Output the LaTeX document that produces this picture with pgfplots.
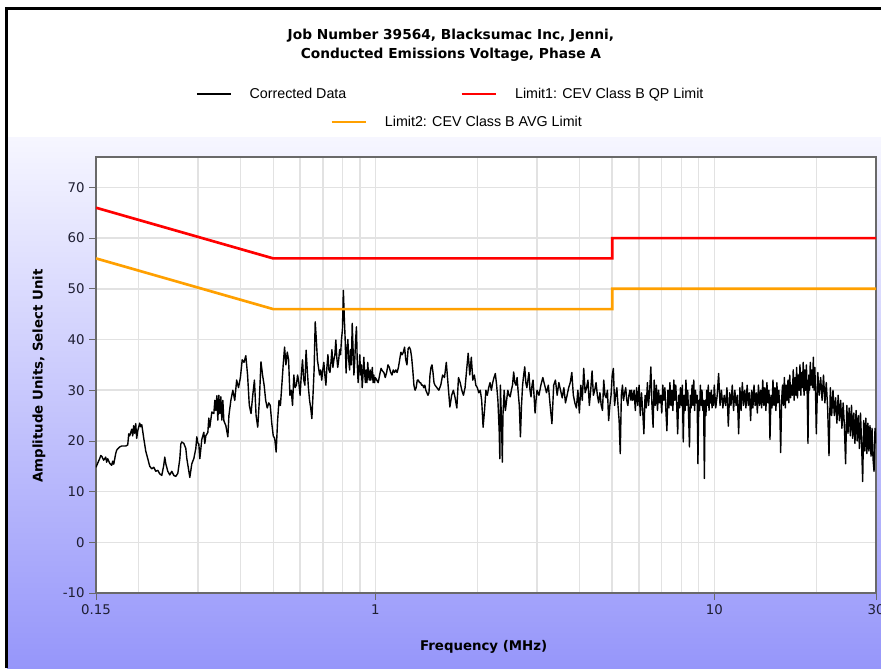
\documentclass[border=0pt]{standalone}
\usepackage{fontspec}
\setmainfont{DejaVu Sans}
\newfontfamily\legfont{Liberation Sans}
\usepackage{pgfplots}
\pgfplotsset{compat=1.18}
\definecolor{gridc}{RGB}{226,226,226}
\definecolor{qpred}{RGB}{255,0,0}
\definecolor{avgor}{RGB}{255,160,0}
\definecolor{bgtop}{RGB}{246,246,255}
\definecolor{bgbot}{RGB}{150,150,250}
\definecolor{axc}{RGB}{105,105,105}
\definecolor{tlc}{RGB}{30,30,50}
\begin{document}
\begin{tikzpicture}[x=1pt,y=1pt]
\useasboundingbox (-72,-56.25) rectangle (588.75,444.75);
\fill[white] (-72,-56.25) rectangle (588.75,444.75);
\shade[top color=bgtop,bottom color=bgbot] (-66.75,-56.25) rectangle (588.75,341.25);
\draw[black,line width=2.25pt] (-66.75,-56.25) -- (-66.75,438) -- (588.75,438);
\begin{axis}[
  at={(0,0)}, anchor=south west, scale only axis,
  width=585pt, height=327pt,
  xmode=log, xmin=0.15, xmax=30, ymin=-10, ymax=76,
  xtick={0.15,1,10,30}, xticklabels={0.15,1,10,30},
  minor xtick={0.2,0.3,0.4,0.5,0.6,0.7,0.8,0.9,2,3,4,5,6,7,8,9,20},
  ytick={-10,0,10,20,30,40,50,60,70},
  yticklabels={-10,0,10,20,30,40,50,60,70},
  grid=both,
  major grid style={gridc,line width=1.1pt},
  minor grid style={gridc,line width=1.1pt},
  tick align=outside, xtick pos=left, ytick pos=left,
  major tick length=5pt, minor tick length=0pt,
  tick style={axc,line width=0.6pt},
  axis line style={axc,line width=0.9pt},
  axis background/.style={fill=white},
  tick label style={font=\fontsize{10}{12}\selectfont, text=tlc},
  title={Job Number 39564, Blacksumac Inc, Jenni,\\Conducted Emissions Voltage, Phase A},
  title style={at={(axis description cs:0.455,1.2374)}, anchor=center, align=center,
    font=\bfseries\fontsize{10.3}{14.25}\selectfont},
  xlabel={Frequency (MHz)},
  xlabel style={at={(axis description cs:0.497,-0.123)}, anchor=center, font=\bfseries\fontsize{10}{12}\selectfont},
  ylabel={Amplitude Units, Select Unit},
  ylabel style={at={(axis description cs:-0.073,0.498)}, anchor=center, rotate=0, font=\bfseries\fontsize{10}{12}\selectfont},
  legend columns=2,
  legend image code/.code={\draw[#1] (0pt,0pt) -- (25.5pt,0pt);},
  legend style={at={(axis description cs:0.1282,1.1445)}, anchor=west, draw=none, fill=none,
    inner sep=0pt, nodes={inner xsep=0pt, inner ysep=1pt},
    font=\legfont\fontsize{10.7}{12.5}\selectfont,
    /tikz/every odd column/.append style={column sep=13.5pt},
    /tikz/every even column/.append style={column sep=85.5pt}},
]
\addplot[black, line width=1.05pt, line join=round] table[row sep=\\] {
f v\\
0.1500 14.8\\ 0.1515 15.5\\ 0.1538 16.5\\ 0.1549 17.1\\ 0.1559 17.0\\ 0.1580 16.2\\ 0.1602 16.8\\ 0.1613 15.8\\
0.1624 16.5\\ 0.1646 15.6\\ 0.1669 15.2\\ 0.1680 16.0\\ 0.1692 15.4\\ 0.1715 17.5\\ 0.1727 18.2\\ 0.1738 18.4\\
0.1762 18.8\\ 0.1786 19.0\\ 0.1811 19.0\\ 0.1836 19.0\\ 0.1861 19.2\\ 0.1874 21.4\\ 0.1886 21.0\\ 0.1912 22.3\\
0.1925 21.0\\ 0.1938 23.0\\ 0.1951 21.5\\ 0.1965 23.4\\ 0.1978 20.5\\ 0.1992 22.0\\ 0.2019 23.5\\ 0.2033 22.8\\
0.2047 23.2\\ 0.2075 20.5\\ 0.2103 18.0\\ 0.2132 16.5\\ 0.2161 15.0\\ 0.2191 14.5\\ 0.2221 14.8\\ 0.2251 14.0\\
0.2282 14.2\\ 0.2313 13.5\\ 0.2345 13.2\\ 0.2377 15.2\\ 0.2393 16.8\\ 0.2410 15.5\\ 0.2443 14.0\\ 0.2476 13.3\\
0.2510 14.0\\ 0.2545 13.2\\ 0.2579 13.0\\ 0.2615 13.6\\ 0.2651 16.5\\ 0.2669 19.4\\ 0.2687 19.8\\ 0.2724 19.5\\
0.2761 18.5\\ 0.2780 16.5\\ 0.2799 15.3\\ 0.2837 12.8\\ 0.2876 15.5\\ 0.2915 16.5\\ 0.2955 18.5\\ 0.2975 20.8\\
0.2996 19.6\\ 0.3016 19.4\\ 0.3037 16.5\\ 0.3078 20.3\\ 0.3120 21.7\\ 0.3141 19.5\\ 0.3163 21.0\\ 0.3207 21.7\\
0.3228 24.5\\ 0.3250 22.7\\ 0.3295 25.7\\ 0.3340 25.4\\ 0.3363 28.0\\ 0.3386 26.0\\ 0.3409 28.9\\ 0.3432 24.1\\
0.3455 29.0\\ 0.3479 25.4\\ 0.3503 28.7\\ 0.3527 24.1\\ 0.3551 28.0\\ 0.3575 24.0\\ 0.3624 23.0\\ 0.3674 20.8\\
0.370 25\\ 0.375 28\\ 0.380 30\\ 0.385 28\\ 0.390 32\\ 0.395 30.5\\ 0.400 32.5\\ 0.405 36\\ 0.410 35.5\\
0.415 36.8\\ 0.420 33\\ 0.425 27\\ 0.430 25.4\\ 0.435 29\\ 0.440 32\\ 0.445 25\\ 0.450 22.7\\ 0.455 28\\
0.460 35.6\\ 0.465 33\\ 0.470 31\\ 0.475 28\\ 0.480 26.5\\ 0.485 27.5\\ 0.490 27\\ 0.495 23.5\\ 0.500 21\\
0.505 20.5\\ 0.510 17.8\\ 0.515 24\\ 0.520 28\\ 0.525 27\\ 0.530 31\\ 0.535 35\\ 0.540 38.5\\ 0.545 35\\
0.550 37.5\\ 0.555 36\\ 0.560 29\\ 0.565 30\\ 0.570 27\\ 0.575 33\\ 0.580 30.5\\ 0.585 31\\ 0.590 33\\
0.595 31.5\\ 0.600 29\\ 0.605 33\\ 0.610 36\\ 0.615 32\\ 0.620 31\\ 0.625 37.9\\ 0.630 34\\ 0.635 30.5\\
0.640 28\\ 0.645 26.5\\ 0.650 24.4\\ 0.655 29\\ 0.660 34\\ 0.665 43.5\\ 0.670 40\\ 0.675 36\\ 0.680 34.5\\
0.685 33\\ 0.690 34\\ 0.695 32\\ 0.700 34\\ 0.705 35.5\\ 0.710 33\\ 0.715 31\\ 0.720 34.5\\ 0.725 37\\
0.730 34\\ 0.735 33.5\\ 0.740 35.5\\ 0.745 38\\ 0.750 34.5\\ 0.755 36\\ 0.760 37\\ 0.765 39.9\\ 0.770 36.5\\
0.775 34.5\\ 0.780 36\\ 0.785 38\\ 0.790 37\\ 0.795 40\\ 0.800 42\\ 0.805 49.7\\ 0.810 44.5\\ 0.815 40\\
0.820 33.4\\ 0.825 38\\ 0.830 40\\ 0.835 36\\ 0.840 34\\ 0.845 38\\ 0.850 35\\ 0.855 43.2\\ 0.860 38\\
0.865 33\\ 0.870 36\\ 0.875 40\\ 0.880 42.5\\ 0.885 35\\ 0.890 31.5\\ 0.895 34\\ 0.900 37\\ 0.905 33\\
0.910 35\\ 0.915 30.5\\ 0.920 33\\ 0.925 36.5\\ 0.930 33.5\\ 0.935 31.5\\ 0.940 34\\ 0.945 31.5\\ 0.950 35.5\\
0.955 33\\ 0.960 32\\ 0.965 34\\ 0.970 32\\ 0.975 33\\ 0.980 34.5\\ 0.985 31.5\\ 0.990 33\\ 0.995 31.5\\
1.000 32.5\\
1.01 32\\ 1.02 31.5\\ 1.03 33\\ 1.04 34.3\\ 1.05 33.8\\ 1.06 33.5\\ 1.07 32.5\\ 1.08 33.5\\ 1.09 35\\ 1.10 34.5\\
1.11 33.5\\ 1.12 33\\ 1.13 34\\ 1.14 33.5\\ 1.15 34\\ 1.16 33.5\\ 1.17 34.5\\ 1.18 36\\ 1.19 37.5\\ 1.20 37\\
1.21 37.5\\ 1.22 38.5\\ 1.23 36\\ 1.24 35\\ 1.25 38.2\\ 1.26 38.5\\ 1.27 38\\ 1.28 36.5\\ 1.29 34\\ 1.30 31\\
1.31 30\\ 1.32 30.5\\ 1.33 32\\ 1.34 32\\ 1.35 31.5\\ 1.36 31.5\\ 1.37 31\\ 1.38 31\\ 1.39 30.5\\ 1.40 31\\
1.41 30\\ 1.42 29.5\\ 1.43 29\\ 1.44 29.5\\ 1.45 33\\ 1.46 34.5\\ 1.47 35\\ 1.48 33.5\\ 1.49 31.5\\ 1.50 31\\
1.52 30.5\\ 1.54 30\\ 1.56 31\\ 1.58 33\\ 1.60 32.5\\ 1.62 35.5\\ 1.64 31\\ 1.66 26.7\\ 1.68 29\\ 1.70 30\\
1.72 28.5\\ 1.74 26.5\\ 1.76 32.5\\ 1.78 31.5\\ 1.80 30\\ 1.82 29\\ 1.84 30.5\\ 1.86 34\\ 1.88 37.3\\ 1.90 33\\
1.92 36.5\\ 1.94 32\\ 1.96 33\\ 1.98 31\\ 2.00 30.5\\ 2.02 29.5\\ 2.04 30\\ 2.06 28\\ 2.08 22.7\\ 2.10 26\\
2.12 30\\ 2.14 29\\ 2.16 30.5\\ 2.18 31.5\\ 2.20 30\\ 2.22 31.5\\ 2.24 32.5\\ 2.26 33.3\\ 2.28 31\\ 2.30 28\\
2.32 22\\ 2.33 16.5\\ 2.34 31\\ 2.36 22\\ 2.37 15.8\\ 2.38 25\\ 2.40 30\\ 2.42 26\\ 2.44 28\\ 2.46 30\\
2.48 29\\ 2.50 28.7\\ 2.52 30\\ 2.54 31\\ 2.56 33.6\\ 2.58 31.5\\ 2.60 31\\ 2.62 32.5\\ 2.64 29.5\\ 2.66 27\\
2.68 20.8\\ 2.70 27\\ 2.72 31\\ 2.74 33\\ 2.76 34.6\\ 2.78 31.5\\ 2.80 30.5\\ 2.82 32\\ 2.84 33.5\\ 2.86 30\\
2.88 28.7\\ 2.90 31\\ 2.92 32\\ 2.94 29\\ 2.96 25.5\\ 2.98 28\\ 3.00 30\\
3.04 29\\ 3.08 31\\ 3.12 32.5\\ 3.16 31\\ 3.20 29.5\\ 3.24 31\\ 3.28 27\\ 3.32 23.4\\ 3.36 31\\ 3.40 32\\
3.44 29\\ 3.48 31.5\\ 3.52 30\\ 3.56 28.5\\ 3.60 30.5\\ 3.64 27.5\\ 3.68 29\\ 3.72 30.5\\ 3.76 31.5\\ 3.80 33.5\\
3.84 29\\ 3.88 27.5\\ 3.92 26.5\\ 3.96 30\\ 4.00 25.5\\ 4.04 31\\ 4.08 28\\ 4.12 34.3\\ 4.16 29.5\\ 4.20 30.5\\
4.24 32\\ 4.28 27\\ 4.32 30\\ 4.36 33.8\\ 4.40 29\\ 4.44 30\\ 4.48 31.5\\ 4.52 29\\ 4.56 27.5\\ 4.60 29.5\\
4.64 27\\ 4.68 26\\ 4.72 32\\ 4.76 29\\ 4.80 28.5\\ 4.84 30\\ 4.88 24\\ 4.92 27\\ 4.96 29\\ 5.00 33\\
5.04 34.3\\ 5.08 27\\ 5.12 29\\ 5.16 30.5\\ 5.20 27\\ 5.24 24\\ 5.28 17.5\\ 5.32 29\\ 5.36 31\\ 5.40 28\\
5.44 29.5\\ 5.48 30.5\\ 5.52 28\\ 5.56 27\\ 5.60 29\\ 5.64 30\\ 5.68 28\\
5.70 30\\ 5.75 28\\ 5.80 30\\ 5.85 26\\ 5.90 30.5\\ 5.95 27\\ 6.00 31\\ 6.05 25\\ 6.10 29.5\\ 6.15 26\\
6.20 21.4\\ 6.25 29\\ 6.30 26.5\\ 6.35 31.5\\ 6.40 27\\ 6.45 30\\ 6.50 34.6\\ 6.55 27\\ 6.60 22.7\\ 6.65 32\\
6.70 27\\ 6.75 31\\ 6.80 26\\ 6.85 30\\ 6.90 27.5\\ 6.95 29\\ 7.00 25.5\\ 7.05 31\\ 7.10 28\\ 7.15 30.5\\
7.20 26\\ 7.25 22\\ 7.30 30\\ 7.35 26.5\\ 7.40 31.5\\ 7.45 27\\ 7.50 30\\ 7.55 26\\ 7.60 32\\ 7.65 28\\
7.70 31\\ 7.75 27\\ 7.80 21.4\\ 7.85 29\\ 7.90 26.5\\ 7.95 30.5\\ 8.00 27\\ 8.05 31\\ 8.10 19.8\\ 8.15 29\\
8.20 26\\ 8.25 32\\ 8.30 27\\ 8.35 30\\ 8.40 25\\ 8.45 18.8\\ 8.50 29\\ 8.55 26.5\\ 8.60 31\\ 8.65 27\\
8.70 32\\ 8.75 26\\ 8.80 30\\ 8.85 27.5\\ 8.90 29\\ 8.95 15.5\\ 9.00 28\\ 9.05 26\\ 9.10 31\\ 9.15 27\\
9.20 30\\ 9.25 26\\ 9.30 28\\ 9.35 12.6\\ 9.40 28\\ 9.45 25\\ 9.50 30\\ 9.55 27\\ 9.60 31\\ 9.65 26\\
9.70 29.5\\ 9.75 27.5\\ 9.80 30\\ 9.85 26.5\\ 9.90 29\\ 9.95 27\\ 10.00 31\\
10.1 26.5\\ 10.2 29\\ 10.3 33.3\\ 10.4 27\\ 10.5 30\\ 10.6 26.5\\ 10.7 29\\ 10.8 27\\ 10.9 30.5\\ 11.0 22.9\\
11.1 29.5\\ 11.2 27\\ 11.3 31\\ 11.4 26\\ 11.5 30\\ 11.6 27\\ 11.7 29\\ 11.8 21.4\\ 11.9 30.5\\ 12.0 26\\
12.1 31.5\\ 12.2 27\\ 12.3 30\\ 12.4 26.5\\ 12.5 31\\ 12.6 27\\ 12.7 29.5\\ 12.8 24\\ 12.9 30\\ 13.0 26.5\\
13.1 31\\ 13.2 27\\ 13.3 29.5\\ 13.4 25.5\\ 13.5 31\\ 13.6 27\\ 13.7 30\\ 13.8 26.5\\ 13.9 32\\ 14.0 27\\
14.1 30.5\\ 14.2 26\\ 14.3 31.5\\ 14.4 27.5\\ 14.5 30\\ 14.6 20.3\\ 14.7 29\\ 14.8 26.5\\ 14.9 32\\ 15.0 27\\
15.1 30.5\\ 15.2 26\\ 15.3 31.5\\ 15.4 27.5\\ 15.5 30\\ 15.6 26.5\\ 15.7 17.7\\ 15.8 28\\ 15.9 31\\ 16.0 27\\
16.1 32.5\\ 16.2 26.5\\ 16.3 31\\ 16.4 28\\ 16.5 32\\ 16.6 27.5\\ 16.7 33\\ 16.8 28.5\\ 16.9 31\\ 17.0 29\\
17.1 34\\ 17.2 28\\ 17.3 32.5\\ 17.4 29\\ 17.5 34.5\\ 17.6 28.5\\ 17.7 33\\ 17.8 30\\ 17.9 35\\ 18.0 29\\
18.1 33.5\\ 18.2 30.5\\ 18.3 35.5\\ 18.4 29\\ 18.5 34\\ 18.6 30\\ 18.7 35\\ 18.8 29.5\\ 18.9 19.5\\ 19.0 33\\
19.1 30\\ 19.2 35.5\\ 19.3 31\\ 19.4 34\\ 19.5 30.5\\ 19.6 36.5\\ 19.7 30\\ 19.8 34.5\\ 19.9 29.5\\ 20.0 21.4\\
20.2 33.5\\ 20.4 29\\ 20.6 32.5\\ 20.8 28\\ 21.0 33\\ 21.2 27.5\\ 21.4 31.5\\ 21.6 26.5\\ 21.8 17.1\\ 22.0 30.5\\
22.2 25\\ 22.4 30\\ 22.6 25\\ 22.8 28.5\\ 23.0 23.5\\ 23.2 29\\ 23.4 24\\ 23.6 28\\ 23.8 22.5\\ 24.0 27.5\\
24.2 23\\ 24.4 15.5\\ 24.6 27\\ 24.8 21.5\\ 25.0 26.5\\ 25.2 21\\ 25.4 27\\ 25.6 20.5\\ 25.8 25.5\\ 26.0 19.5\\
26.2 26\\ 26.4 20\\ 26.6 25\\ 26.8 18.5\\ 27.0 25.5\\ 27.2 19.5\\ 27.4 12\\ 27.6 24\\ 27.8 18\\ 28.0 24.5\\
28.2 17.5\\ 28.4 23.5\\ 28.6 18\\ 28.8 23\\ 29.0 17\\ 29.2 22.5\\ 29.4 16.5\\ 29.6 14\\ 29.8 22.5\\ 30.0 19.5\\
};
\addlegendentry{Corrected Data}
\addplot[qpred, line width=2pt] coordinates {(0.15,66) (0.5,56) (5,56) (5,60) (30,60)};
\addlegendentry{Limit1: CEV Class B QP Limit}
\addplot[avgor, line width=2pt, forget plot] coordinates {(0.15,56) (0.5,46) (5,46) (5,50) (30,50)};
\end{axis}
\begin{axis}[
  at={(0,0)}, anchor=south west, scale only axis,
  width=585pt, height=327pt, hide axis,
  xmin=0, xmax=1, ymin=0, ymax=1,
  legend image code/.code={\draw[#1] (0pt,0pt) -- (25.5pt,0pt);},
  legend style={at={(axis description cs:0.3,1.0803)}, anchor=west, draw=none, fill=none,
    inner sep=0pt, nodes={inner xsep=0pt, inner ysep=1pt},
    font=\legfont\fontsize{10.7}{12.5}\selectfont,
    /tikz/every odd column/.append style={column sep=13.5pt}},
]
\addlegendimage{avgor, line width=2pt}
\addlegendentry{Limit2: CEV Class B AVG Limit}
\end{axis}
\end{tikzpicture}
\end{document}
